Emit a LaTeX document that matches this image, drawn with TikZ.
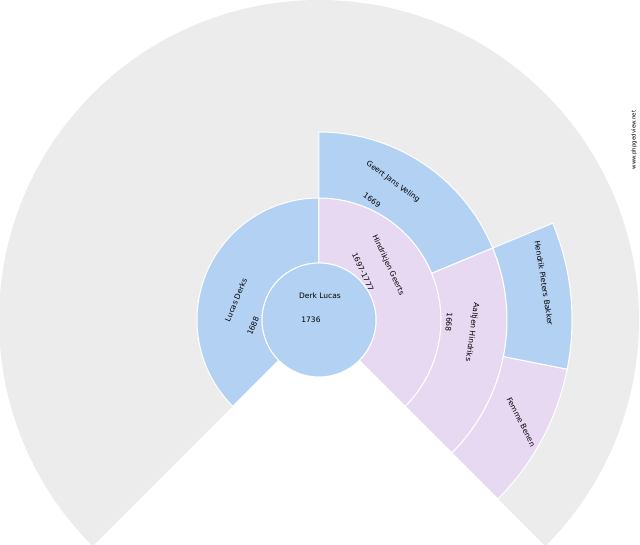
\documentclass[tikz,border=0pt]{standalone}
\usepackage{fontspec}
\setmainfont{DejaVu Sans}
\definecolor{fanblue}{HTML}{B3D1F2}
\definecolor{fanpink}{HTML}{E8D9F2}
\definecolor{fangray}{HTML}{ECECEC}
\tikzset{
  sector/.style={draw=white, line width=1pt},
  lbl/.style={font=\fontsize{7.5}{8}\selectfont, inner sep=0pt},
}
\newcommand{\fansector}[5]{% colour, a1, a2, r1, r2
  \fill[#1, sector] (#2:#4pt) arc[start angle=#2, end angle=#3, radius=#4pt]
    -- (#3:#5pt) arc[start angle=#3, end angle=#2, radius=#5pt] -- cycle;}
\begin{document}
\begin{tikzpicture}[x=1pt,y=1pt]
\useasboundingbox (-319,-225) rectangle (321,320);
\clip (-319,-225) rectangle (321,320);
% background fan
\fill[fangray] (0,0) -- (-45:320pt) arc[start angle=-45, end angle=225, radius=320pt] -- cycle;
% rings
\fansector{fanblue}{90}{225}{57}{122}
\fansector{fanpink}{-45}{90}{57}{122}
\fansector{fanblue}{22.5}{90}{122}{188}
\fansector{fanpink}{-45}{22.5}{122}{188}
\fansector{fanblue}{-11.25}{22.5}{188}{253}
\fansector{fanpink}{-45}{-11.25}{188}{253}
\fill[fanblue, sector] (0,0) circle (57pt);
% labels
\node[lbl] (root) at (1,24) {Derk Lucas};
\node[lbl] (rootd) at (-8,0) {1736};
\node[lbl, rotate=67] (fa) at (-83,20) {Lucas Derks};
\node[lbl, rotate=67] (fad) at (-66,-6) {1688};
\node[lbl, rotate=-65] (mo) at (69,55) {Hindrikjen Geerts};
\node[lbl, rotate=-65] (mod) at (44,48) {1697-1777};
\node[lbl, rotate=-36] (mofa) at (74,138) {Geert Jans Veling};
\node[lbl, rotate=-36] (mofad) at (53,120) {1669};
\node[lbl, rotate=-98] (momo) at (153,-12) {Aaltjen Hindriks};
\node[lbl, rotate=-95] (momod) at (130,-2) {1668};
\node[lbl, rotate=-81] (momofa) at (225,37) {Hendrik Pieters Bakker};
\node[lbl, rotate=-63] (momomo) at (202,-102) {Femme Benen};
\node[lbl, rotate=90, font=\fontsize{5.5}{6}\selectfont] (www) at (315,180) {www.phpgedview.net};
\end{tikzpicture}
\end{document}
